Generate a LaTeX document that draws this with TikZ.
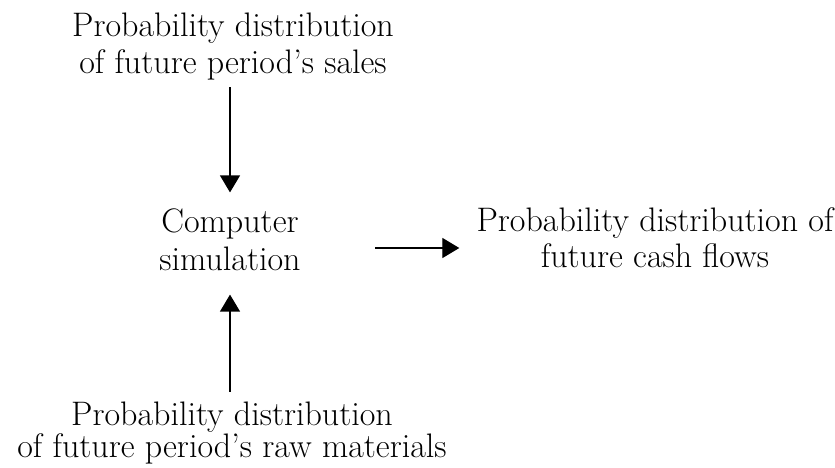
\documentclass[tikz,border=0pt]{standalone}
\usetikzlibrary{arrows.meta,positioning}
\tikzset{
  box/.style={
    align=center,
    inner sep=0pt,
    font=\fontsize{34}{37}\selectfont
  },
  flow/.style={
    line width=1.3pt,
    -{Triangle[width=20pt,length=17pt]}
  },
}

\begin{document}
\begin{tikzpicture}[x=1pt,y=-1pt]
  \useasboundingbox (0,0) rectangle (835,468);
  \node[box] (sales) at (233,47) {Probability distribution\\of future period's sales};
  \node[box,font=\fontsize{34}{38}\selectfont] (sim) at (230,239.4) {Computer\\simulation};
  \node[box,font=\fontsize{34}{36}\selectfont] (cash) at (655,238.2) {Probability distribution of\\future cash flows};
  \node[box,font=\fontsize{34}{32}\selectfont] (raw) at (232,433.5) {Probability distribution\\of future period's raw materials};
  \draw[flow] ([yshift=-6.4pt]sales.south -| sim.north) -- ([yshift=15.8pt]sim.north);
  \draw[flow] ([yshift=10.4pt]raw.north -| sim.south) -- ([yshift=-24pt]sim.south);
  \draw[flow] ([shift={(74.4pt,-8.6pt)}]sim.east) coordinate (out)
    -- ([xshift=-17pt]cash.west |- out);
\end{tikzpicture}
\end{document}
